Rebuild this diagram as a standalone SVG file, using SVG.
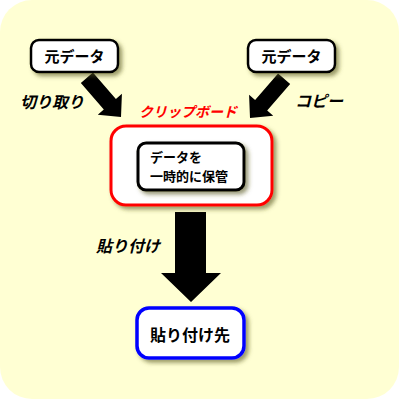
<svg xmlns="http://www.w3.org/2000/svg" width="400" height="400" viewBox="0 0 400 400">
<defs>
<style>
.t{font-family:"Noto Sans CJK JP","Noto Sans",sans-serif;font-weight:bold;fill:#000}
.lbl{font-family:"Noto Sans CJK JP","Noto Sans",sans-serif;font-weight:bold;font-style:italic;font-size:16px;fill:#000}
.arrow{fill:#000}
</style>
<filter id="sh" x="-20%" y="-20%" width="150%" height="150%">
<feDropShadow dx="3" dy="3" stdDeviation="2" flood-color="#555522" flood-opacity="0.6"/>
</filter>
</defs>
<rect x="0" y="0" width="399" height="399" rx="32" ry="32" fill="#FFFFD3"/>
<g id="connectors">
<polygon class="arrow" transform="translate(121,117) rotate(49)" points="-52,-8 -17,-8 -17,-16 0,0 -17,16 -17,8 -52,8"/>
<polygon class="arrow" transform="translate(250,118) rotate(131)" points="-52,-8 -17,-8 -17,-16 0,0 -17,16 -17,8 -52,8"/>
<polygon class="arrow" points="175,212 206,212 206,273 221,273 191,302 161,273 175,273"/>
<text class="lbl" x="20" y="108">切り取り</text>
<text class="lbl" x="295" y="107">コピー</text>
<text class="lbl" x="96" y="252">貼り付け</text>
</g>
<g id="src1">
<rect x="31" y="40" width="87" height="32" rx="8" fill="#fff" stroke="#000" stroke-width="2.5" filter="url(#sh)"/>
<text class="t" x="74.5" y="62" font-size="15" text-anchor="middle">元データ</text>
</g>
<g id="src2">
<rect x="248" y="40" width="87" height="32" rx="8" fill="#fff" stroke="#000" stroke-width="2.5" filter="url(#sh)"/>
<text class="t" x="291.5" y="62" font-size="15" text-anchor="middle">元データ</text>
</g>
<g id="clipboard">
<text x="188" y="117" font-family="'Noto Sans CJK JP',sans-serif" font-weight="bold" font-style="italic" font-size="14" fill="#FF0000" text-anchor="middle">クリップボード</text>
<rect x="111" y="126" width="161" height="79" rx="15" fill="#fff" stroke="#FF0000" stroke-width="3" filter="url(#sh)"/>
</g>
<g id="store">
<rect x="138" y="143" width="106" height="47" rx="8" fill="#fff" stroke="#000" stroke-width="3" filter="url(#sh)"/>
<text class="t" x="150" y="162" font-size="13">データを</text>
<text class="t" x="150" y="181" font-size="13">一時的に保管</text>
</g>
<g id="dest">
<rect x="137" y="308" width="107" height="50" rx="12" fill="#fff" stroke="#0000FF" stroke-width="3.5" filter="url(#sh)"/>
<text class="t" x="190" y="341" font-size="16" text-anchor="middle">貼り付け先</text>
</g>
</svg>
